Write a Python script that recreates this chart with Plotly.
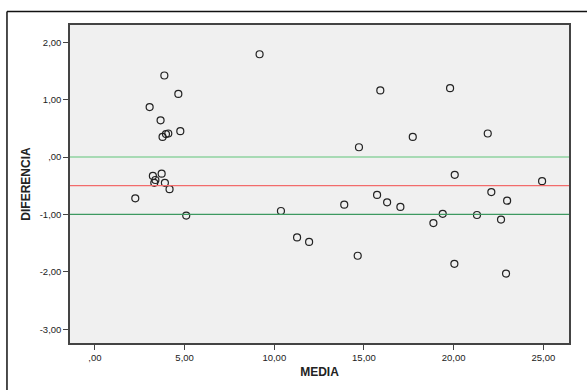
import plotly.graph_objects as go

media = [9.18, 3.87, 4.65, 3.05, 3.66, 4.76, 4.09, 3.96, 3.77, 3.23, 3.72, 3.37, 3.31, 3.90, 4.16, 2.25,
         5.09, 10.37, 11.27, 11.94,
         15.91, 19.80, 17.72, 21.90, 14.72, 20.06, 24.93, 15.73, 22.10, 13.90, 16.29, 17.03,
         14.65, 18.87, 19.39, 20.04, 21.30, 22.98, 22.64, 22.92]
diferencia = [1.79, 1.42, 1.10, 0.87, 0.64, 0.45, 0.41, 0.40, 0.35, -0.33, -0.29, -0.40, -0.45, -0.45, -0.56, -0.72,
              -1.02, -0.94, -1.40, -1.48,
              1.16, 1.20, 0.35, 0.41, 0.17, -0.31, -0.42, -0.66, -0.61, -0.83, -0.79, -0.87,
              -1.72, -1.15, -0.99, -1.86, -1.01, -0.76, -1.09, -2.03]

ref_lines = [0.0, -0.5, -1.0]
ref_colors = ["#8fd3a0", "#f26b6b", "#3d9960"]

x_ticks = [0, 5, 10, 15, 20, 25]
x_labels = [",00", "5,00", "10,00", "15,00", "20,00", "25,00"]
y_ticks = [2, 1, 0, -1, -2, -3]
y_labels = ["2,00", "1,00", ",00", "-1,00", "-2,00", "-3,00"]

fig = go.Figure()
fig.add_trace(go.Scatter(
    x=media, y=diferencia, mode="markers",
    marker=dict(symbol="circle-open", size=7, color="#222222", line=dict(width=1.2)),
    showlegend=False, hoverinfo="skip"))

shapes = []
for v, c in zip(ref_lines, ref_colors):
    shapes.append(dict(type="line", xref="paper", x0=0, x1=1, yref="y", y0=v, y1=v,
                       line=dict(color=c, width=1.3), layer="above"))
# outer frame (top and left edges only visible in the window)
shapes.append(dict(type="line", xref="paper", yref="paper", x0=-0.1263, x1=1.04, y0=1.0425, y1=1.0425,
                   line=dict(color="#111111", width=1.5), layer="below"))
shapes.append(dict(type="line", xref="paper", yref="paper", x0=-0.1263, x1=-0.1263, y0=-0.16, y1=1.0425,
                   line=dict(color="#111111", width=1.5), layer="below"))

fig.update_layout(
    width=587, height=390,
    margin=dict(l=70, r=18, t=25, b=47),
    paper_bgcolor="white", plot_bgcolor="#f0f0f0",
    font=dict(family="Liberation Sans, Arial, sans-serif", color="#222222", size=10),
    shapes=shapes,
    xaxis=dict(range=[-1.39, 26.43], tickvals=x_ticks, ticktext=x_labels, automargin=False,
               showgrid=False, zeroline=False, showline=True, linecolor="#444444", linewidth=1.5,
               mirror=True, ticks="outside", ticklen=5, tickcolor="#444444", tickwidth=1.2,
               tickfont=dict(size=9.5),
               title=dict(text="<b>MEDIA</b>", font=dict(size=12), standoff=5)),
    yaxis=dict(range=[-3.24, 2.30], tickvals=y_ticks, ticktext=y_labels, automargin=False,
               showgrid=False, zeroline=False, showline=True, linecolor="#444444", linewidth=1.5,
               mirror=True, ticks="outside", ticklen=5, tickcolor="#444444", tickwidth=1.2,
               tickfont=dict(size=9.5),
               title=dict(text="<b>DIFERENCIA</b>", font=dict(size=12), standoff=6)),
)

fig.write_html("out.html", config={"displayModeBar": False},
               post_script="document.body.style.margin='0px';document.body.style.padding='0px';")
